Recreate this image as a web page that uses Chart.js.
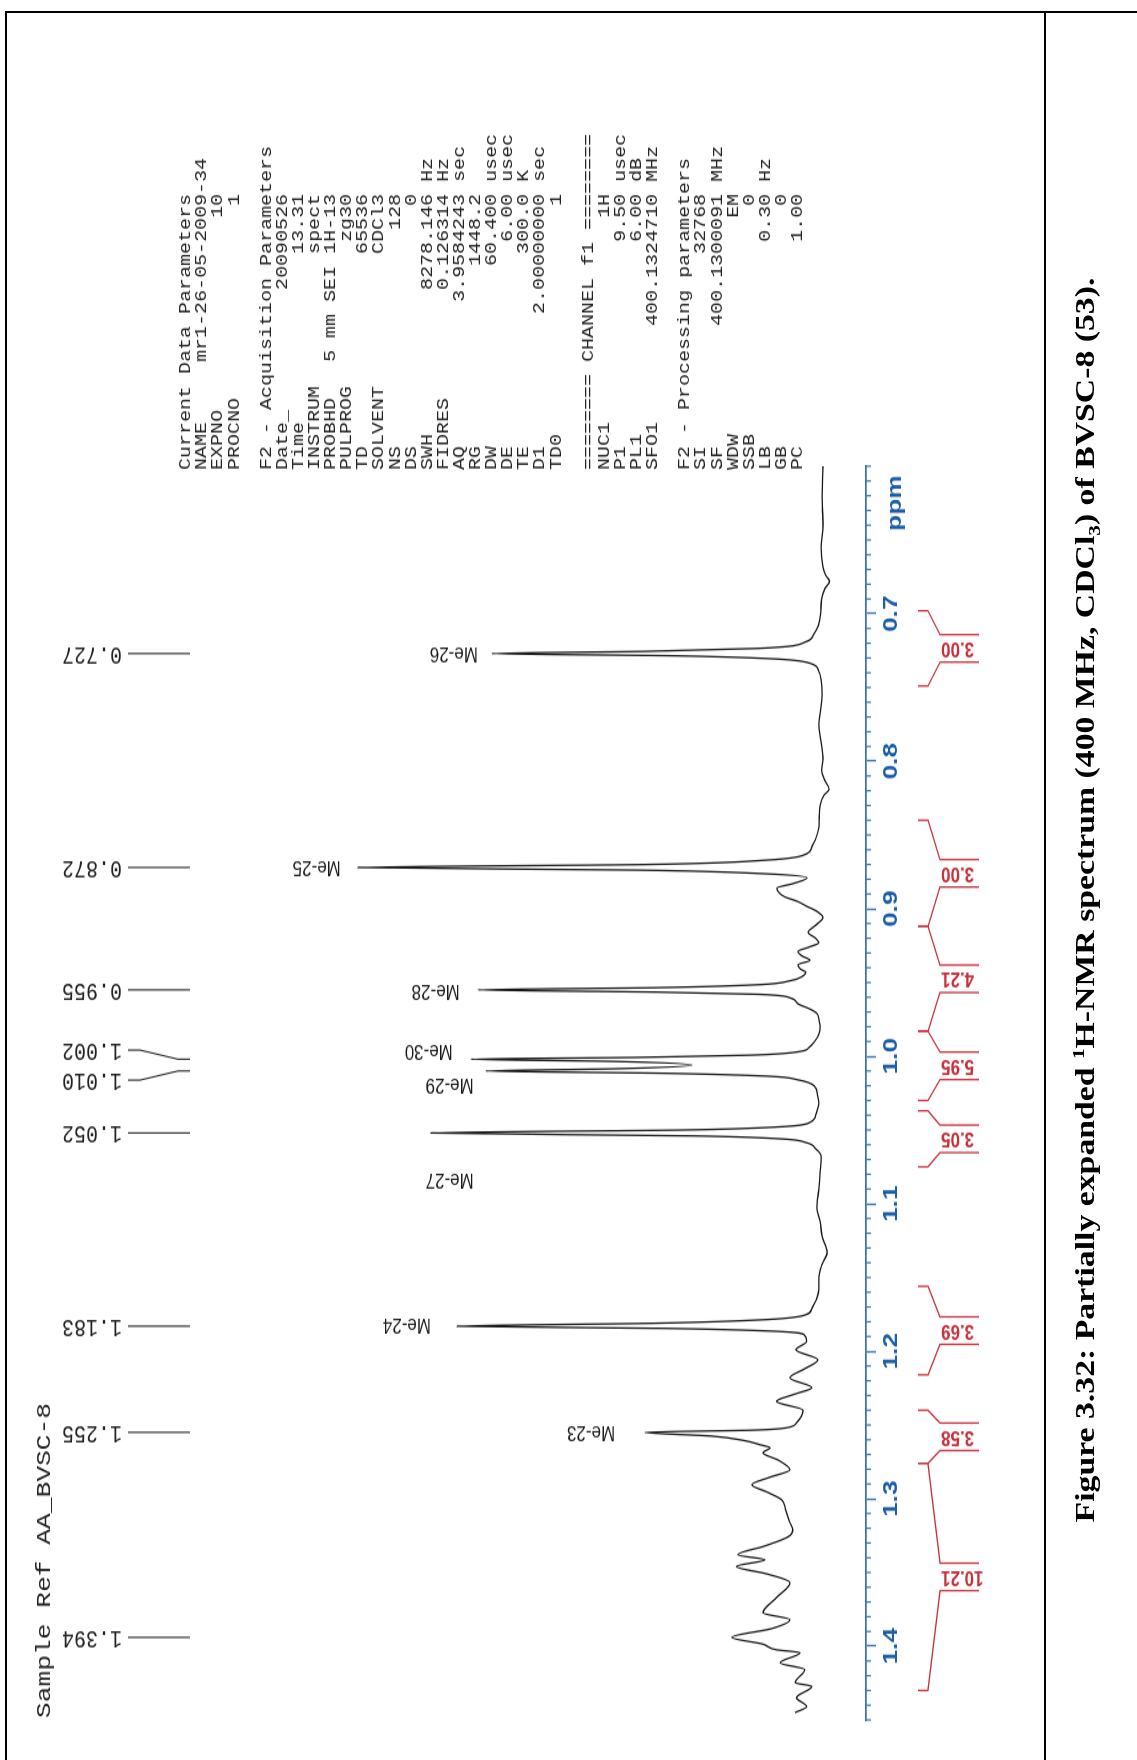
<!DOCTYPE html>
<html>
<head>
<meta charset="utf-8">
<title>1H-NMR BVSC-8</title>
<script src="https://cdn.jsdelivr.net/npm/chart.js@4.4.1/dist/chart.umd.min.js"></script>
<style>
  html, body { margin: 0; padding: 0; background: #fff; }
  body { width: 1137px; height: 1760px; position: relative; overflow: hidden; }
  .rule { position: absolute; background: #000; }
  /* the printout is laid out landscape and turned a quarter to the left */
  #sheet {
    position: absolute; left: 0; top: 0; width: 1760px; height: 1137px;
    transform-origin: 0 0; transform: translateY(1760px) rotate(-90deg);
  }
  #spec { position: absolute; left: 0; top: 0; transform-origin: 0 0; transform: scaleX(1.25); }
  #caption {
    position: absolute; left: 160px; top: 1070px; width: 1400px; line-height: 32px;
    text-align: center; white-space: nowrap; color: #000;
    font: bold 27px "Liberation Serif", "Times New Roman", serif;
    transform: scaleX(1.25); transform-origin: 50% 50%;
  }
  #caption sup, #caption sub { font-size: 17px; line-height: 0; }
</style>
</head>
<body>
<div class="rule" style="left:5px;top:11px;width:1132px;height:2px"></div>
<div class="rule" style="left:5px;top:11px;width:2px;height:1749px"></div>
<div class="rule" style="left:1044px;top:11px;width:2px;height:1749px"></div>

<div id="sheet">
  <canvas id="spec" width="1408" height="1137"></canvas>
  <div id="caption">Figure 3.32: Partially expanded <sup>1</sup>H-NMR spectrum (400 MHz, CDCl<sub>3</sub>) of BVSC-8 (53).</div>
</div>

<script>
// stretch of the plot along the shift axis (canvas is drawn narrow and widened by CSS)
const STRETCH = 1.25;

// spectrum trace: chemical shift (ppm) and intensity (Me-25 peak = 100)
const shift = [
  0.600, 0.620, 0.640, 0.655, 0.668, 0.674, 0.678, 0.683, 0.690, 0.700,
  0.708, 0.714, 0.719, 0.7235, 0.7255, 0.727, 0.7285, 0.7305, 0.733, 0.739,
  0.745, 0.755, 0.765, 0.775, 0.787, 0.798, 0.806, 0.813, 0.819, 0.823,
  0.830, 0.838, 0.845, 0.852, 0.858, 0.863, 0.867, 0.870, 0.872, 0.8738,
  0.8762, 0.879, 0.883, 0.886, 0.889, 0.892, 0.895, 0.898, 0.902, 0.906,
  0.911, 0.916, 0.920, 0.923, 0.926, 0.929, 0.932, 0.935, 0.938, 0.941,
  0.943, 0.946, 0.949, 0.9515, 0.9535, 0.955, 0.9565, 0.958, 0.9605, 0.9644,
  0.968, 0.971, 0.975, 0.980, 0.985, 0.990, 0.994, 0.9968, 0.9993, 1.0008,
  1.002, 1.0035, 1.006, 1.0085, 1.010, 1.0115, 1.0135, 1.016, 1.020, 1.026,
  1.032, 1.039, 1.0448, 1.0478, 1.050, 1.052, 1.054, 1.056, 1.0585, 1.063,
  1.068, 1.078, 1.090, 1.103, 1.112, 1.122, 1.133, 1.141, 1.150, 1.158,
  1.164, 1.171, 1.175, 1.1785, 1.181, 1.183, 1.1845, 1.1865, 1.189, 1.1933,
  1.199, 1.2058, 1.212, 1.218, 1.2247, 1.229, 1.234, 1.240, 1.2485, 1.252,
  1.2535, 1.255, 1.2575, 1.2605, 1.2634, 1.2654, 1.2688, 1.274, 1.2803, 1.2855,
  1.2905, 1.2955, 1.3007, 1.308, 1.3163, 1.321, 1.3258, 1.332, 1.338, 1.3414,
  1.3459, 1.351, 1.3569, 1.367, 1.3773, 1.382, 1.388, 1.394, 1.3985, 1.4024,
  1.4044, 1.4112, 1.4159, 1.4247, 1.4272, 1.4349, 1.4408, 1.4450
];
const intensity = [
  0.0, 0.2, 0.0, 0.4, 0.0, -0.6, -1.4, -0.4, 0.3, 0.5,
  1.0, 2.0, 3.7, 14, 38, 71.2, 32, 11, 3.4, 0.9,
  0.4, 0.2, 0.5, 0.9, 0.4, 0.0, 0.3, -0.4, -1.3, -0.2,
  0.6, 0.8, 0.9, 1.5, 2.4, 3.7, 12, 38, 100, 40,
  13, 3.4, 6.5, 9.9, 9.5, 8.2, 5.5, 3.7, 1.2, 0.0,
  1.5, 3.2, 1.6, 0.9, 3.0, 5.4, 4.5, 2.8, 5.4, 4.8,
  3.7, 4.5, 7.3, 14, 36, 74.2, 36, 14, 7.0, 5.4,
  2.8, 1.3, 0.9, 0.6, 0.9, 1.8, 3.0, 5.0, 16, 40,
  75.7, 45, 28.2, 45, 72.5, 35, 12, 5.4, 1.9, 1.2,
  0.9, 1.5, 2.8, 9, 30, 84.3, 28, 9, 3.7, 1.5,
  0.4, 0.6, 0.9, 1.3, 0.6, 0.2, -0.9, 0.2, 0.9, 0.9,
  1.3, 2.4, 3.5, 12, 36, 78.7, 34, 10, 4.0, 3.5,
  5.8, 1.1, 4.0, 7.1, 2.4, 6.0, 10.0, 4.3, 5.7, 8.0,
  15, 38.3, 24, 17, 13.5, 11.4, 12.9, 9.5, 7.1, 11.5,
  15.3, 12.0, 8.9, 8.0, 7.1, 6.5, 7.5, 12.5, 18.3, 12.5,
  18.6, 12.0, 7.1, 10.0, 12.9, 7.1, 11.0, 19.6, 13.0, 10.0,
  4.9, 9.2, 3.9, 6.0, 2.4, 5.7, 3.5, 6.0
];

// peak picking list printed above the trace
const peakShifts = [0.727, 0.872, 0.955, 1.002, 1.010, 1.052, 1.183, 1.255, 1.394];

// methyl assignments: name, shift where the label sits, intensity where it starts
const methylNames = ['Me-26', 'Me-25', 'Me-28', 'Me-30', 'Me-29', 'Me-27', 'Me-24', 'Me-23'];
const methylShift = [0.727, 0.872, 0.956, 0.996, 1.0195, 1.084, 1.182, 1.255];
const methylLevel = [74.2, 103.7, 78.1, 79.6, 75.1, 75.1, 84.3, 44.7];

// integrals: region limits (ppm) and value
const integralFrom = [0.698, 0.840, 0.912, 0.983, 1.037, 1.156, 1.240, 1.276];
const integralTo = [0.749, 0.912, 0.983, 1.030, 1.075, 1.216, 1.276, 1.430];
const integralValue = ['3.00', '3.00', '4.21', '5.95', '3.05', '3.69', '3.58', '10.21'];

// labelled ppm ticks
const ppmTickValues = [0.7, 0.8, 0.9, 1.0, 1.1, 1.2, 1.3, 1.4];
const ppmTickLabels = ['0.7', '0.8', '0.9', '1.0', '1.1', '1.2', '1.3', '1.4'];

// acquisition / processing parameter block
function row(name, value, unit, width) {
  const w = width || 23;
  const pad = Math.max(1, w - name.length - value.length);
  return name + ' '.repeat(pad) + value + (unit ? ' ' + unit : '');
}
const paramLines = [
  'Current Data Parameters',
  row('NAME', 'mr1-26-05-2009-34', '', 26),
  row('EXPNO', '10'),
  row('PROCNO', '1'),
  '',
  'F2 - Acquisition Parameters',
  row('Date_', '20090526'),
  row('Time', '13.31'),
  row('INSTRUM', 'spect'),
  row('PROBHD', '5 mm SEI 1H-13'),
  row('PULPROG', 'zg30'),
  row('TD', '65536'),
  row('SOLVENT', 'CDCl3'),
  row('NS', '128'),
  row('DS', '0'),
  row('SWH', '8278.146', 'Hz'),
  row('FIDRES', '0.126314', 'Hz'),
  row('AQ', '3.9584243', 'sec'),
  row('RG', '1448.2'),
  row('DW', '60.400', 'usec'),
  row('DE', '6.00', 'usec'),
  row('TE', '300.0', 'K'),
  row('D1', '2.00000000', 'sec'),
  row('TD0', '1'),
  '',
  '======== CHANNEL f1 ========',
  row('NUC1', '1H'),
  row('P1', '9.50', 'usec'),
  row('PL1', '6.00', 'dB'),
  row('SFO1', '400.1324710', 'MHz'),
  '',
  'F2 - Processing parameters',
  row('SI', '32768'),
  row('SF', '400.1300091', 'MHz'),
  row('WDW', 'EM'),
  row('SSB', '0'),
  row('LB', '0.30', 'Hz'),
  row('GB', '0'),
  row('PC', '1.00')
];

const AXIS_BLUE = '#3a72b4';
const LABEL_BLUE = '#1c5ea6';
const INT_RED = '#c8303a';

function tickIndex(v) {
  return ppmTickValues.findIndex(t => Math.abs(t - v) < 1e-6);
}

const nmrDecor = {
  id: 'nmrDecor',
  afterDraw(chart) {
    const ctx = chart.ctx;
    const xs = chart.scales.x;
    const ys = chart.scales.y;
    const axisY = chart.chartArea.bottom;
    ctx.save();

    // minor ticks every 0.01 ppm
    ctx.strokeStyle = AXIS_BLUE;
    ctx.lineWidth = 1.2;
    ctx.beginPath();
    for (let i = 60; i <= 145; i++) {
      if (tickIndex(i / 100) >= 0) continue;
      const u = xs.getPixelForValue(i / 100);
      ctx.moveTo(u, axisY);
      ctx.lineTo(u, axisY + 5);
    }
    ctx.stroke();

    // axis unit
    ctx.fillStyle = LABEL_BLUE;
    ctx.font = 'bold 21px "Liberation Sans", Arial, sans-serif';
    ctx.textAlign = 'center';
    ctx.textBaseline = 'middle';
    ctx.fillText('ppm', xs.getPixelForValue(0.625), 895);

    // peak list: vertical labels with leader lines, spread where crowded
    const peakPx = peakShifts.map(p => xs.getPixelForValue(p));
    const pos = peakPx.slice();
    const minGap = 24;
    for (let pass = 0; pass < 20; pass++) {
      for (let i = 0; i < pos.length - 1; i++) {
        const d = pos[i] - pos[i + 1];
        if (d < minGap) {
          const s = (minGap - d) / 2;
          pos[i] += s;
          pos[i + 1] -= s;
        }
      }
    }
    ctx.strokeStyle = '#222';
    ctx.lineWidth = 1.1;
    ctx.fillStyle = '#222';
    ctx.font = '20px "Liberation Mono", "Courier New", monospace';
    ctx.textAlign = 'left';
    ctx.textBaseline = 'middle';
    peakShifts.forEach((p, i) => {
      ctx.beginPath();
      ctx.moveTo(pos[i], 128);
      ctx.lineTo(pos[i], 140);
      ctx.lineTo(peakPx[i], 178);
      ctx.lineTo(peakPx[i], 190);
      ctx.stroke();
      ctx.save();
      ctx.translate(pos[i], 122);
      ctx.rotate(-Math.PI / 2);
      ctx.fillText(p.toFixed(3), 0, 0);
      ctx.restore();
    });

    // methyl assignments
    ctx.fillStyle = '#1a1a1a';
    ctx.font = '17px "Liberation Sans", Arial, sans-serif';
    methylNames.forEach((name, i) => {
      ctx.save();
      ctx.translate(xs.getPixelForValue(methylShift[i]), ys.getPixelForValue(methylLevel[i]));
      ctx.rotate(-Math.PI / 2);
      ctx.fillText(name, 0, 0);
      ctx.restore();
    });

    // integrals below the axis
    const half = 11;
    ctx.strokeStyle = INT_RED;
    ctx.fillStyle = INT_RED;
    ctx.lineWidth = 1.3;
    ctx.font = 'bold 17px "Liberation Sans", Arial, sans-serif';
    ctx.textAlign = 'right';
    integralFrom.forEach((a, i) => {
      const b = integralTo[i];
      const ua = xs.getPixelForValue(a);
      const ub = xs.getPixelForValue(b);
      const uc = xs.getPixelForValue((a + b) / 2);
      ctx.beginPath();
      ctx.moveTo(ua, 918); ctx.lineTo(ua, 928); ctx.lineTo(uc + half, 940); ctx.lineTo(uc + half, 979);
      ctx.moveTo(ub, 918); ctx.lineTo(ub, 928); ctx.lineTo(uc - half, 940); ctx.lineTo(uc - half, 979);
      ctx.stroke();
      ctx.save();
      ctx.translate(uc, 941);
      ctx.rotate(-Math.PI / 2);
      ctx.fillText(integralValue[i], 0, 0);
      ctx.restore();
    });

    // sample title
    ctx.fillStyle = '#222';
    ctx.textAlign = 'left';
    ctx.font = '21px "Liberation Mono", "Courier New", monospace';
    ctx.fillText('Sample Ref AA_BVSC-8', 33.6, 44);

    // parameter listing to the right of the trace
    ctx.font = '16px "Liberation Mono", "Courier New", monospace';
    paramLines.forEach((line, i) => {
      if (line) ctx.fillText(line, 1032, 186 + 16.1 * i);
    });

    ctx.restore();
  }
};

const canvas = document.getElementById('spec');
new Chart(canvas, {
  type: 'scatter',
  data: {
    datasets: [{
      data: shift.map((p, i) => ({ x: p, y: intensity[i] })),
      showLine: true,
      borderColor: '#161616',
      borderWidth: 1.3,
      pointRadius: 0,
      cubicInterpolationMode: 'monotone',
      fill: false
    }]
  },
  options: {
    responsive: false,
    animation: false,
    devicePixelRatio: 1,
    layout: { padding: { left: 32, right: 373, top: 311.5, bottom: 231 } },
    plugins: { legend: { display: false }, tooltip: { enabled: false } },
    scales: {
      x: {
        type: 'linear',
        min: 0.6,
        max: 1.45,
        reverse: true,
        position: 'bottom',
        afterFit(scale) { scale.height = 40; },
        border: { display: true, color: AXIS_BLUE, width: 1.8 },
        grid: {
          display: true,
          drawOnChartArea: false,
          tickLength: 10,
          tickWidth: 1.4,
          tickColor: c => (c.tick && tickIndex(c.tick.value) >= 0 ? AXIS_BLUE : 'rgba(0,0,0,0)')
        },
        ticks: {
          stepSize: 0.01,
          autoSkip: false,
          maxRotation: 0,
          minRotation: 0,
          padding: 3,
          color: LABEL_BLUE,
          font: { family: '"Liberation Sans", Arial, sans-serif', size: 21, weight: 'bold' },
          callback: v => {
            const i = tickIndex(v);
            return i >= 0 ? ppmTickLabels[i] : '';
          }
        }
      },
      y: { display: false, min: -9.25, max: 110 }
    }
  },
  plugins: [nmrDecor]
});
</script>
</body>
</html>
